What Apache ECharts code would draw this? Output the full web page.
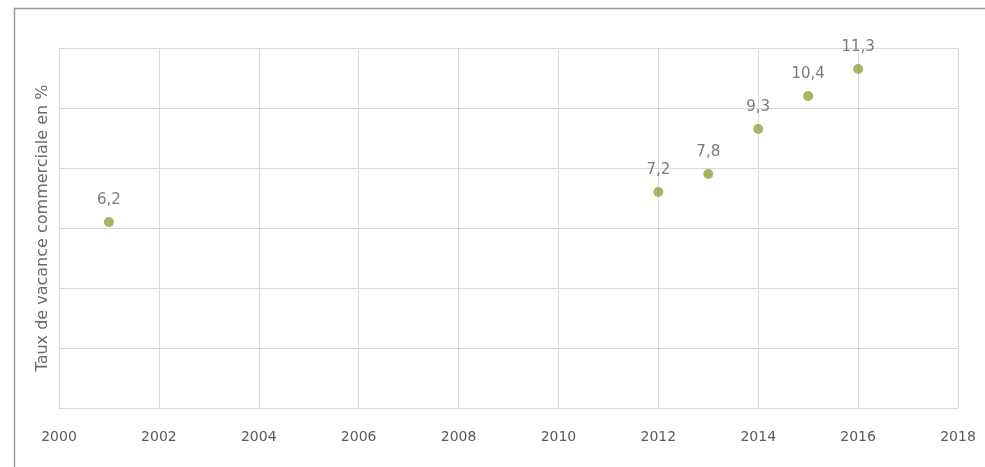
<!DOCTYPE html>
<html>
<head>
<meta charset="utf-8">
<script src="https://cdn.jsdelivr.net/npm/echarts@6/dist/echarts.min.js"></script>
<style>
  html, body { margin: 0; padding: 0; background: #fff; }
  #chart { width: 985px; height: 467px; }
</style>
</head>
<body>
<div id="chart"></div>
<script>
// données
const years = [2001, 2012, 2013, 2014, 2015, 2016];
const tauxVacance = [6.2, 7.2, 7.8, 9.3, 10.4, 11.3];
const yAxisTitle = 'Taux de vacance commerciale en %';

const chart = echarts.init(document.getElementById('chart'), null, { renderer: 'canvas' });

const gridColor = '#d9d9d9';
const textColor = '#5a5a5a';
const font = 'DejaVu Sans';

const option = {
  backgroundColor: '#fff',
  animation: false,
  // cadre extérieur
  graphic: [{
    type: 'rect',
    left: 12, top: 6,
    shape: { width: 1000, height: 500 },
    style: { fill: 'none', stroke: '#9a9a9a', lineWidth: 1.5 },
    silent: true
  }],
  grid: { left: 59, right: 27, top: 48, bottom: 59 },
  xAxis: {
    type: 'value',
    min: 2000,
    max: 2018,
    interval: 2,
    axisLine: { show: true, lineStyle: { color: gridColor } },
    axisTick: { show: false },
    splitLine: { show: true, lineStyle: { color: gridColor } },
    axisLabel: {
      color: textColor,
      fontSize: 14,
      fontFamily: font,
      margin: 22,
      showMinLabel: true,
      showMaxLabel: true,
      formatter: v => String(v)
    }
  },
  yAxis: {
    type: 'value',
    min: 0,
    max: 12,
    interval: 2,
    name: yAxisTitle,
    nameLocation: 'middle',
    nameGap: 8,
    nameTextStyle: { color: '#6a6a6a', fontSize: 16, fontFamily: font },
    axisLine: { show: true, lineStyle: { color: gridColor } },
    axisTick: { show: false },
    axisLabel: { show: false },
    splitLine: { show: true, lineStyle: { color: gridColor } }
  },
  series: [{
    type: 'scatter',
    data: years.map((y, i) => [y, tauxVacance[i]]),
    symbolSize: 10,
    itemStyle: { color: '#8ca43a' },
    label: {
      show: true,
      position: 'top',
      distance: 9,
      color: textColor,
      fontSize: 15,
      fontFamily: font,
      formatter: p => String(p.value[1]).replace('.', ',')
    }
  }]
};

chart.setOption(option);
</script>
</body>
</html>
